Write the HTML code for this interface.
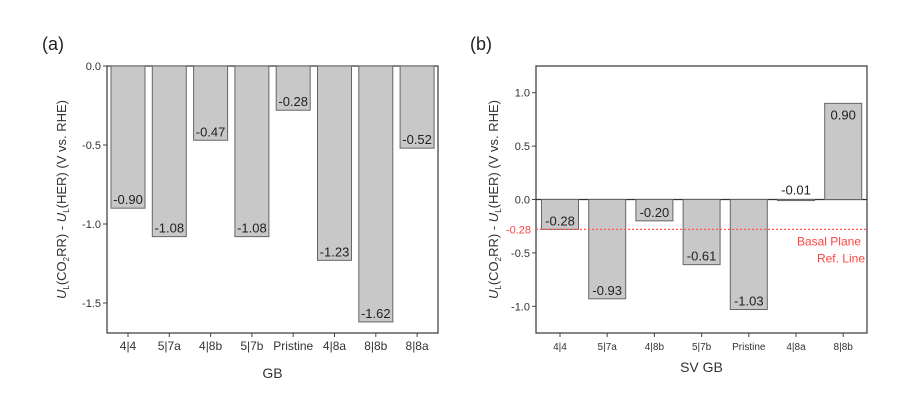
<!DOCTYPE html>
<html><head><meta charset="utf-8"><style>
body{margin:0;background:#fff;}
svg{display:block;font-family:"Liberation Sans",sans-serif;}
</style></head><body>
<svg id="c" width="922" height="411">
<text x="42" y="50" font-size="18" fill="#222">(a)</text>
<text x="470" y="50" font-size="18" fill="#222">(b)</text>
</svg>
<script>
const catsA=["4|4","5|7a","4|8b","5|7b","Pristine","4|8a","8|8b","8|8a"];
const valsA=[-0.90,-1.08,-0.47,-1.08,-0.28,-1.23,-1.62,-0.52];
const ticksA=[0.0,-0.5,-1.0,-1.5];
const catsB=["4|4","5|7a","4|8b","5|7b","Pristine","4|8a","8|8b"];
const valsB=[-0.28,-0.93,-0.20,-0.61,-1.03,-0.01,0.90];
const ticksB=[1.0,0.5,0.0,-0.5,-1.0];
const refB=-0.28;
const svg=document.getElementById('c');
const NS='http://www.w3.org/2000/svg';
function mk(t,a,txt){const e=document.createElementNS(NS,t);for(const k in a)e.setAttribute(k,a[k]);if(txt!=null)e.textContent=txt;svg.appendChild(e);return e;}
function panel(p){
  const y=v=>p.top+(p.ymax-v)/(p.ymax-p.ymin)*(p.bot-p.top);
  const x=i=>p.x0+i*p.step;
  let e=mk('rect',{x:p.left,y:p.top,width:p.right-p.left,height:p.bot-p.top,fill:'none',stroke:'#444','stroke-width':1.3});
  
  
  p.ticks.forEach(t=>{
    e=mk('line',{x1:p.left-4,x2:p.left,y1:y(t),y2:y(t),stroke:'#444'});
    
    
    e=mk('text',{x:p.left-6,y:y(t)+4,'font-size':11,'text-anchor':'end',fill:'#333'},t.toFixed(1));
    
    
  });
  if(p.zeroLine){e=mk('line',{x1:p.left,x2:p.right,y1:y(0),y2:y(0),stroke:'#333','stroke-width':1.2});
    
    }
  p.cats.forEach((c,i)=>{
    const v=p.vals[i];const y1=y(Math.max(v,0)),y2=y(Math.min(v,0));
    e=mk('rect',{x:x(i)-p.bw/2,y:y1,width:p.bw,height:Math.max(y2-y1,1),fill:'#c8c8c8',stroke:'#666','stroke-width':1});
    
    
    const ly=v<0?(Math.abs(v)<0.05?y(0)-5:y(v)-4):y(v)+16;
    e=mk('text',{x:x(i),y:ly,'font-size':13,'text-anchor':'middle',fill:'#222'},v.toFixed(2));
    
    
    e=mk('line',{x1:x(i),x2:x(i),y1:p.bot,y2:p.bot+4,stroke:'#444'});
    
    
    e=mk('text',{x:x(i),y:p.bot+17,'font-size':p.xfs,'text-anchor':'middle',fill:'#333'},c);
    
    
  });
  e=mk('text',{x:(p.left+p.right)/2,y:p.xty,'font-size':14,'text-anchor':'middle',fill:'#333'},p.xt);
  
  
  e=mk('text',{x:0,y:0,'font-size':13,'text-anchor':'middle',fill:'#333',transform:`translate(${p.ytx},${(p.top+p.bot)/2}) rotate(-90)`});
  e.innerHTML='<tspan font-style="italic">U</tspan><tspan font-size="8" dy="3">L</tspan><tspan dy="-3">(CO</tspan><tspan font-size="8" dy="3">2</tspan><tspan dy="-3">RR) - </tspan><tspan font-style="italic">U</tspan><tspan font-size="8" dy="3">L</tspan><tspan dy="-3">(HER) (V vs. RHE)</tspan>';
  
  
  return y;
}
panel({id:'a',left:107,right:438,top:66,bot:333,ymax:0,ymin:-1.69,x0:128,step:41.3,bw:34,cats:catsA,vals:valsA,ticks:ticksA,xt:'GB',xty:378,ytx:66,xfs:12});
const yB=panel({id:'b',left:536,right:867,top:66,bot:333,ymax:1.25,ymin:-1.25,x0:560,step:47.2,bw:37,cats:catsB,vals:valsB,ticks:ticksB,xt:'SV GB',xty:372,ytx:498,zeroLine:true,xfs:10});
let e=mk('line',{x1:536,x2:867,y1:yB(refB),y2:yB(refB),stroke:'#f55','stroke-width':1.3,'stroke-dasharray':'2,2'});


e=mk('text',{x:531,y:yB(refB)+4,'font-size':11,'text-anchor':'end',fill:'#f44'},refB.toFixed(2));


e=mk('text',{x:861,y:yB(refB)+16,'font-size':12,'text-anchor':'end',fill:'#f44'},'Basal Plane');


e=mk('text',{x:865,y:yB(refB)+33,'font-size':12,'text-anchor':'end',fill:'#f44'},'Ref. Line');


</script>
</body></html>
